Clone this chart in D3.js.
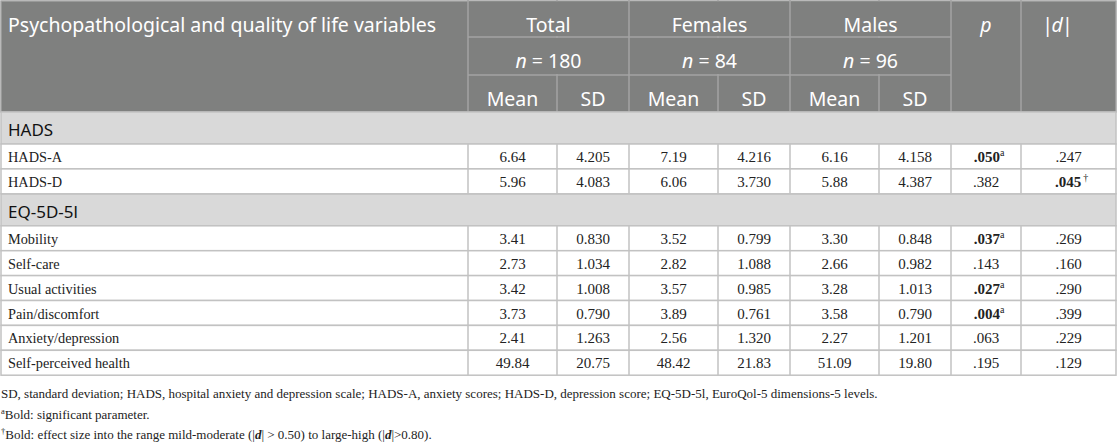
<!DOCTYPE html>
<html>
<head>
<meta charset="utf-8">
<script src="https://cdn.jsdelivr.net/npm/d3@7"></script>
<style>
  html, body { margin: 0; padding: 0; background: #fff; }
  svg { display: block; }
  .hdr { font-family: "Noto Sans", sans-serif; font-size: 19.5px; fill: #fff; }
  .grp { font-family: "Noto Sans", sans-serif; font-size: 17px; fill: #111; }
  .cell { font-family: "Liberation Serif", "Times New Roman", serif; font-size: 15px; fill: #222; }
  .lab { font-size: 14.3px; }
  .note { font-family: "Liberation Serif", "Times New Roman", serif; font-size: 13px; fill: #222; }
</style>
</head>
<body>
<div id="chart"></div>
<script>
// Table content
const headTitle = 'Psychopathological and quality of life variables';
const sexGroups = ['Total', 'Females', 'Males'];
const sampleSizes = ['180', '84', '96'];
const statLabels = ['Mean', 'SD'];

const sections = ['HADS', 'EQ-5D-5l'];
const variables = ['HADS-A', 'HADS-D', 'Mobility', 'Self-care', 'Usual activities',
  'Pain/discomfort', 'Anxiety/depression', 'Self-perceived health'];
const variableSection = ['HADS', 'HADS', 'EQ-5D-5l', 'EQ-5D-5l', 'EQ-5D-5l', 'EQ-5D-5l', 'EQ-5D-5l', 'EQ-5D-5l'];

const totalMean   = ['6.64', '5.96', '3.41', '2.73', '3.42', '3.73', '2.41', '49.84'];
const totalSD     = ['4.205', '4.083', '0.830', '1.034', '1.008', '0.790', '1.263', '20.75'];
const femalesMean = ['7.19', '6.06', '3.52', '2.82', '3.57', '3.89', '2.56', '48.42'];
const femalesSD   = ['4.216', '3.730', '0.799', '1.088', '0.985', '0.761', '1.320', '21.83'];
const malesMean   = ['6.16', '5.88', '3.30', '2.66', '3.28', '3.58', '2.27', '51.09'];
const malesSD     = ['4.158', '4.387', '0.848', '0.982', '1.013', '0.790', '1.201', '19.80'];
const pValues     = ['.050', '.382', '.037', '.143', '.027', '.004', '.063', '.195'];
const pMark       = ['a', '', 'a', '', 'a', 'a', '', ''];
const dValues     = ['.247', '.045', '.269', '.160', '.290', '.399', '.229', '.129'];
const dMark       = ['', '†', '', '', '', '', '', ''];

const footnote1 = 'SD, standard deviation; HADS, hospital anxiety and depression scale; HADS-A, anxiety scores; HADS-D, depression score; EQ-5D-5l, EuroQol-5 dimensions-5 levels.';

const W = 1117, H = 444;
const COL_W = [467, 89, 72, 89, 72, 89, 72, 70, 95];
const HEAD_H = [37, 38, 37];
const SECTION_H = 32, ROW_H = 24.9;
const HEAD_BG = '#7f807f', HEAD_LINE = '#a3a3a3';
const SEC_BG = '#d9d9d9', BODY_LINE = '#c2c2c2';

const edges = [1, ...d3.cumsum(COL_W).map(v => v + 1)];
const x = d3.scaleOrdinal().domain(d3.range(COL_W.length)).range(edges.slice(0, -1));
const right = edges[edges.length - 1];
const xMid = (a, b) => (x(a) + (b + 1 < COL_W.length ? x(b + 1) : right)) / 2;

// row layout: sections followed by their variables
const rows = [];
let yCur = d3.sum(HEAD_H);
sections.forEach(s => {
  rows.push({ type: 'section', label: s, y: yCur, h: SECTION_H });
  yCur += SECTION_H;
  variables.forEach((v, i) => {
    if (variableSection[i] !== s) return;
    rows.push({ type: 'row', i, label: v, y: yCur, h: ROW_H });
    yCur += ROW_H;
  });
});
const tableBottom = yCur;

const svg = d3.select('#chart').append('svg').attr('width', W).attr('height', H);

// Header
const hy = [0, ...d3.cumsum(HEAD_H)];
const head = svg.append('g');
head.append('rect').attr('x', edges[0]).attr('y', 1).attr('width', right - edges[0]).attr('height', hy[3] - 1)
  .attr('fill', HEAD_BG).attr('stroke', HEAD_LINE).attr('stroke-width', 1.5);

const hl = [];
for (let c = 1; c < COL_W.length; c++) hl.push([x(c), hy[0], x(c), hy[3]]);
[hy[1], hy[2]].forEach(yy => hl.push([x(1), yy, x(7), yy]));
head.selectAll('line').data(hl).join('line')
  .attr('x1', d => d[0]).attr('y1', d => d[1]).attr('x2', d => d[2]).attr('y2', d => d[3])
  .attr('stroke', HEAD_LINE).attr('stroke-width', 1.5);
// spanning cells: cover the Mean/SD split in the first two header rows
sexGroups.forEach((g, k) => {
  const c0 = 1 + k * 2;
  head.append('rect').attr('x', x(c0) + 1).attr('y', hy[0] + 1.5)
    .attr('width', COL_W[c0] + COL_W[c0 + 1] - 2).attr('height', HEAD_H[0] - 2.5).attr('fill', HEAD_BG);
  head.append('rect').attr('x', x(c0) + 1).attr('y', hy[1] + 1)
    .attr('width', COL_W[c0] + COL_W[c0 + 1] - 2).attr('height', HEAD_H[1] - 2).attr('fill', HEAD_BG);
});

head.append('text').attr('class', 'hdr').attr('x', 8).attr('y', hy[0] + 32).text(headTitle);
head.selectAll('.sex').data(sexGroups).join('text').attr('class', 'hdr sex')
  .attr('x', (d, k) => xMid(1 + k * 2, 2 + k * 2)).attr('y', hy[0] + 32)
  .attr('text-anchor', 'middle').text(d => d);
head.selectAll('.nn').data(sampleSizes).join('text').attr('class', 'hdr nn')
  .attr('x', (d, k) => xMid(1 + k * 2, 2 + k * 2)).attr('y', hy[1] + 31)
  .attr('text-anchor', 'middle')
  .each(function (d) {
    const t = d3.select(this);
    t.append('tspan').attr('font-style', 'italic').text('n');
    t.append('tspan').text(' = ' + d);
  });
head.selectAll('.stat').data(d3.range(6)).join('text').attr('class', 'hdr stat')
  .attr('x', k => xMid(1 + k, 1 + k)).attr('y', hy[2] + 31)
  .attr('text-anchor', 'middle').text(k => statLabels[k % 2]);
head.append('text').attr('class', 'hdr').attr('x', xMid(7, 7)).attr('y', hy[0] + 32)
  .attr('text-anchor', 'middle').attr('font-style', 'italic').text('p');
const dH = head.append('text').attr('class', 'hdr').attr('x', xMid(8, 8) - 11).attr('y', hy[0] + 32)
  .attr('text-anchor', 'middle');
dH.append('tspan').text('|');
dH.append('tspan').attr('font-style', 'italic').attr('dx', -1.5).text('d');
dH.append('tspan').attr('dx', -1).text('|');

// Body
const body = svg.append('g');
const secRows = rows.filter(r => r.type === 'section');
const dataRows = rows.filter(r => r.type === 'row');

body.selectAll('.secbg').data(secRows).join('rect').attr('class', 'secbg')
  .attr('x', edges[0]).attr('y', d => d.y).attr('width', right - edges[0]).attr('height', d => d.h)
  .attr('fill', SEC_BG).attr('stroke', BODY_LINE).attr('stroke-width', 1.5);
body.selectAll('.sectxt').data(secRows).join('text').attr('class', 'grp sectxt')
  .attr('x', 8).attr('y', d => d.y + 24).text(d => d.label);

body.selectAll('.rowbg').data(dataRows).join('rect').attr('class', 'rowbg')
  .attr('x', edges[0]).attr('y', d => d.y).attr('width', right - edges[0]).attr('height', d => d.h)
  .attr('fill', '#fff').attr('stroke', BODY_LINE).attr('stroke-width', 1.5);
const vl = [];
dataRows.forEach(r => { for (let c = 1; c < COL_W.length; c++) vl.push([x(c), r.y, r.y + r.h]); });
body.selectAll('.vl').data(vl).join('line').attr('class', 'vl')
  .attr('x1', d => d[0]).attr('x2', d => d[0]).attr('y1', d => d[1]).attr('y2', d => d[2])
  .attr('stroke', BODY_LINE).attr('stroke-width', 1.5);

body.selectAll('.lab').data(dataRows).join('text').attr('class', 'cell lab')
  .attr('x', 8).attr('y', d => d.y + 18).text(d => d.label);

const numCols = [totalMean, totalSD, femalesMean, femalesSD, malesMean, malesSD];
const cells = [];
dataRows.forEach(r => {
  numCols.forEach((arr, k) => cells.push({ c: 1 + k, y: r.y, v: arr[r.i], bold: false, mark: '' }));
  cells.push({ c: 7, y: r.y, v: pValues[r.i], bold: pMark[r.i] !== '', mark: pMark[r.i] });
  cells.push({ c: 8, y: r.y, v: dValues[r.i], bold: dMark[r.i] !== '', mark: dMark[r.i] });
});
body.selectAll('.num').data(cells).join('text').attr('class', 'cell num')
  .attr('x', d => xMid(d.c, d.c) + (d.mark ? 3 : 0)).attr('y', d => d.y + 18)
  .attr('text-anchor', 'middle')
  .each(function (d) {
    const t = d3.select(this);
    t.append('tspan').attr('font-weight', d.bold ? 'bold' : null).text(d.v);
    if (d.mark) t.append('tspan').attr('font-size', 10).attr('dy', -6)
      .attr('dx', d.mark === '†' ? 2 : 0).text(d.mark);
  });

// Footnotes
const notes = svg.append('g');
notes.append('text').attr('class', 'note').attr('x', 1).attr('y', tableBottom + 23).text(footnote1);
const n2 = notes.append('text').attr('class', 'note').attr('x', 1).attr('y', tableBottom + 44);
n2.append('tspan').attr('font-size', 8.5).attr('dy', -5).text('a');
n2.append('tspan').attr('dy', 5).text('Bold: significant parameter.');
const n3 = notes.append('text').attr('class', 'note').attr('x', 1).attr('y', tableBottom + 64);
n3.append('tspan').attr('font-size', 8.5).attr('dy', -5).text('†');
n3.append('tspan').attr('dy', 5).text('Bold: effect size into the range mild-moderate (|');
n3.append('tspan').attr('font-style', 'italic').attr('font-weight', 'bold').text('d');
n3.append('tspan').text('| > 0.50) to large-high (|');
n3.append('tspan').attr('font-style', 'italic').attr('font-weight', 'bold').text('d');
n3.append('tspan').text('|>0.80).');
</script>
</body>
</html>
